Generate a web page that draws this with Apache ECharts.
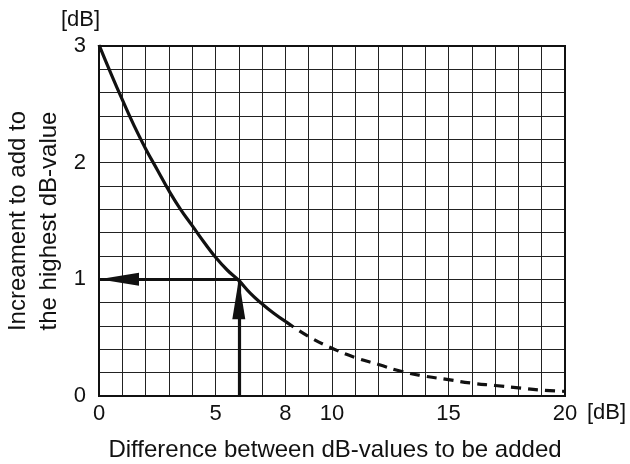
<!DOCTYPE html>
<html><head><meta charset="utf-8">
<script src="https://cdn.jsdelivr.net/npm/echarts@6/dist/echarts.min.js"></script>
<style>html,body{margin:0;padding:0;background:#fff}#c{width:630px;height:464px}</style>
</head><body><div id="c"></div>
<script>
// Data
const solidX = [0, 0.5, 1, 1.5, 2, 2.5, 3, 3.5, 4, 4.5, 5, 5.5, 6, 6.5, 7, 7.5, 8];
const solidY = [3.01, 2.77, 2.54, 2.32, 2.12, 1.94, 1.76, 1.60, 1.46, 1.32, 1.19, 1.08, 0.99, 0.88, 0.79, 0.71, 0.64];
const dashX = [8, 9, 10, 11, 12, 13, 14, 15, 16, 17, 18, 19, 20];
const dashY = [0.64, 0.51, 0.41, 0.33, 0.27, 0.21, 0.17, 0.14, 0.11, 0.09, 0.07, 0.05, 0.04];
const arrowPoint = [6, 1];
const xTickLabels = [0, 5, 8, 10, 15, 20];
const yTickLabels = [0, 1, 2, 3];

const FONT = 'Liberation Sans';
const chart = echarts.init(document.getElementById('c'), null, {renderer: 'canvas'});
const pair = (xs, ys) => xs.map((x, i) => [x, ys[i]]);
const isIn = (list, v) => list.some(t => Math.abs(t - v) < 1e-6);

chart.setOption({
  animation: false,
  grid: {left: 99, top: 46, right: 65, bottom: 68, show: true, borderColor: '#111', borderWidth: 2, z: 3,
    containLabel: false, outerBoundsMode: 'none'},
  xAxis: {
    type: 'value', min: 0, max: 20, interval: 1,
    name: 'Difference between dB-values to be added', nameLocation: 'middle', nameGap: 42, nameMoveOverlap: false,
    nameTextStyle: {fontFamily: FONT, fontSize: 24, color: '#111', lineHeight: 25, padding: [0, 0, 0, 6]},
    axisLine: {show: false}, axisTick: {show: false},
    axisLabel: {fontFamily: FONT, fontSize: 22, color: '#111', margin: 7, hideOverlap: false,
      formatter: v => isIn(xTickLabels, v) ? String(Math.round(v)) : ''},
    splitLine: {show: true, lineStyle: {color: '#222', width: 1}}
  },
  yAxis: {
    type: 'value', min: 0, max: 3, interval: 0.2,
    name: 'Increament to add to\nthe highest dB-value', nameLocation: 'middle', nameGap: 34, nameRotate: 90, nameMoveOverlap: false,
    nameTextStyle: {fontFamily: FONT, fontSize: 24, color: '#111', lineHeight: 31},
    axisLine: {show: false}, axisTick: {show: false},
    axisLabel: {fontFamily: FONT, fontSize: 22, color: '#111', margin: 13, hideOverlap: false,
      formatter: v => isIn(yTickLabels, v) ? String(Math.round(v)) : ''},
    splitLine: {show: true, lineStyle: {color: '#222', width: 1}}
  },
  graphic: [
    {type: 'text', left: 61, top: 9, style: {text: '[dB]', font: '22px ' + FONT, fill: '#111'}},
    {type: 'text', left: 587, top: 402, style: {text: '[dB]', font: '22px ' + FONT, fill: '#111'}}
  ],
  series: [
    {type: 'line', data: pair(solidX, solidY), smooth: true, symbol: 'none', z: 5,
      lineStyle: {color: '#111', width: 3.2}},
    {type: 'line', data: pair(dashX, dashY), smooth: true, symbol: 'none', z: 5,
      lineStyle: {color: '#111', width: 3.2, type: [10, 7]}},
    {type: 'line', data: [], z: 6,
      markLine: {silent: true, symbol: ['none', 'triangle'], symbolSize: [13, 40],
        symbolOffset: [[0, 0], [0, 20]], label: {show: false},
        lineStyle: {color: '#111', width: 3.2, type: 'solid'},
        data: [
          [{coord: arrowPoint}, {coord: [0, arrowPoint[1]]}],
          [{coord: [arrowPoint[0], 0]}, {coord: arrowPoint}]
        ]}}
  ]
});
</script></body></html>
